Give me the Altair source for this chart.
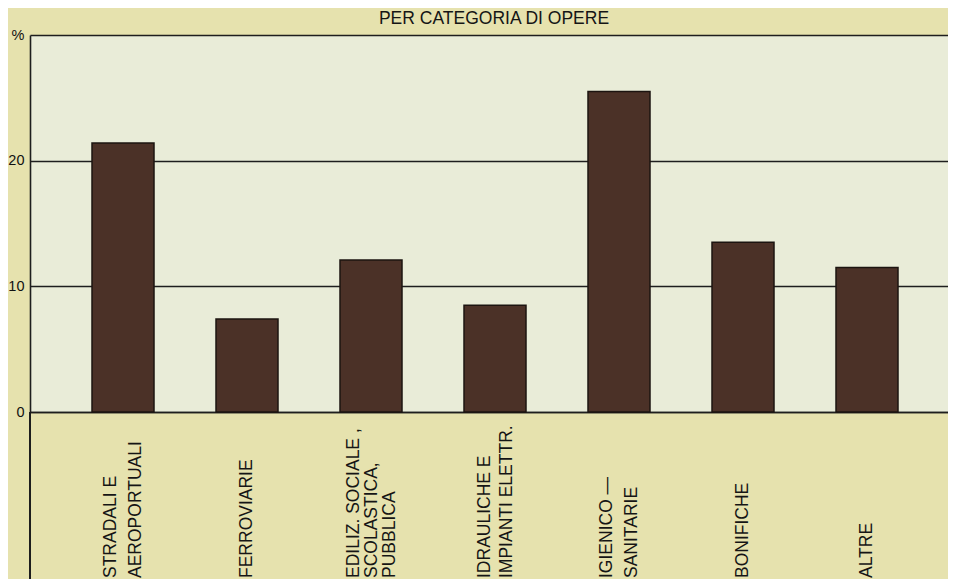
import altair as alt
import pandas as pd

title_text = "PER CATEGORIA DI OPERE"
categories = [
    "STRADALI  E|AEROPORTUALI",
    "FERROVIARIE",
    "EDILIZ. SOCIALE ,|SCOLASTICA,|PUBBLICA",
    "IDRAULICHE E|IMPIANTI ELETTR.",
    "IGIENICO —|SANITARIE",
    "BONIFICHE",
    "ALTRE",
]
values = [21.4, 7.4, 12.1, 8.5, 25.5, 13.5, 11.5]
y_ticks = [0, 10, 20, 30]

df = pd.DataFrame({"cat": categories, "val": values})
tdf = pd.DataFrame({"t": [title_text]})

W, H = 918, 377
cat_order = categories

x_scale = alt.Scale(range=[0, 930], paddingInner=0.5, paddingOuter=0.5)

bars = alt.Chart(df).mark_bar(
    color="#4b3127", stroke="#1c1410", strokeWidth=1.5
).encode(
    x=alt.X(
        "cat:N", sort=cat_order, scale=x_scale,
        axis=alt.Axis(labels=False, ticks=False, title=None, domain=True,
                      domainColor="#1e1e1e", domainWidth=1.6),
    ),
    y=alt.Y(
        "val:Q",
        scale=alt.Scale(domain=[0, 30], nice=False),
        axis=alt.Axis(
            values=y_ticks, grid=True, gridColor="#1e1e1e", gridWidth=1.4,
            gridOpacity=1, ticks=False, domain=True, domainColor="#1e1e1e",
            domainWidth=1.6, labelPadding=6, labelFontSize=14.5,
            labelFont="Liberation Sans", labelColor="#111",
            labelExpr="datum.value == 30 ? '%' : datum.label", title=None,
        ),
    ),
)

def label_layer(cats, lh, shift):
    return alt.Chart(df).transform_filter(
        alt.FieldOneOfPredicate(field="cat", oneOf=cats)
    ).mark_text(
        angle=270, align="left", baseline="middle", lineBreak="|",
        lineHeight=lh, dy=shift, font="Liberation Sans", fontSize=17.5,
        color="#151515",
    ).encode(
        x=alt.X("cat:N", sort=cat_order, scale=x_scale),
        y=alt.value(543),
        text="cat:N",
    )

labels_single = label_layer([categories[i] for i in (1, 5, 6)], 25, 0)
labels_two = label_layer([categories[i] for i in (0, 4)], 25, -12)
labels_idr = label_layer([categories[3]], 22, -10.5)
labels_edil = label_layer([categories[2]], 18, -17)

axis_ext = alt.Chart(df).mark_rule(color="#1e1e1e", strokeWidth=1.6).encode(
    x=alt.value(0), y=alt.value(H), y2=alt.value(546)
)

title = alt.Chart(tdf).mark_text(
    font="Liberation Sans", fontSize=17.5, color="#151515",
    align="center", baseline="alphabetic",
).encode(x=alt.value(464), y=alt.value(-11), text="t:N")

chart = alt.layer(
    bars, labels_single, labels_two, labels_idr, labels_edil, axis_ext, title
).properties(
    width=W,
    height=H,
    autosize=alt.AutoSizeParams(type="none"),
    padding={"left": 22, "top": 27, "right": 0, "bottom": 167},
    background="#e6e2ae",
).configure_view(fill="#e9ecd8", strokeWidth=0)

chart.save("out.html", embed_options={"renderer": "svg", "actions": False})
